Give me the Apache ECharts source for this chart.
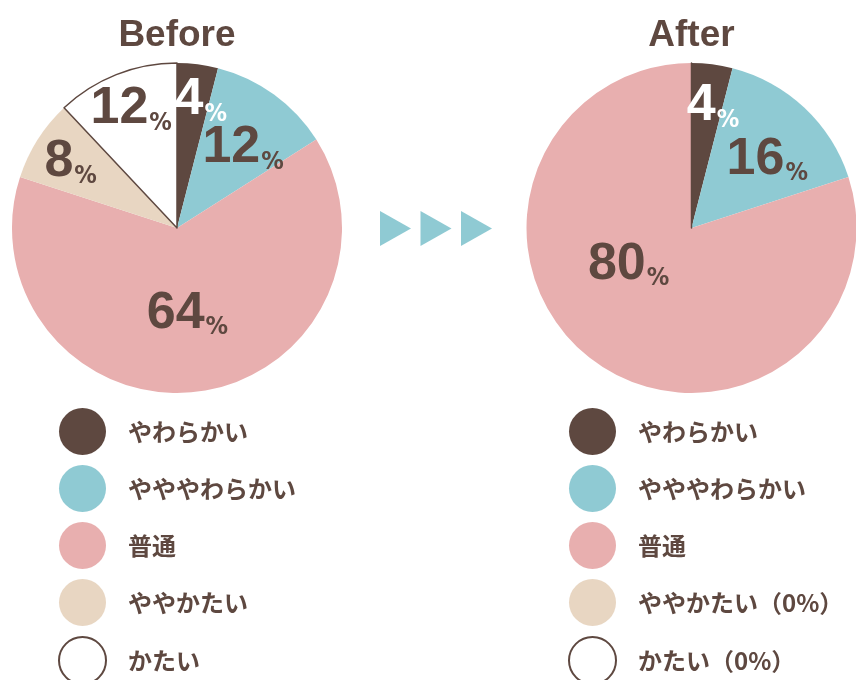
<!DOCTYPE html>
<html>
<head>
<meta charset="utf-8">
<script src="https://cdn.jsdelivr.net/npm/echarts@6/dist/echarts.min.js"></script>
<style>
  html, body { margin: 0; padding: 0; background: #fff; }
  #chart { width: 856px; height: 680px; }
</style>
</head>
<body>
<div id="chart"></div>
<script>
// データ
const categories = ['やわらかい', 'やややわらかい', '普通', 'ややかたい', 'かたい'];
const afterNames = ['やわらかい', 'やややわらかい', '普通', 'ややかたい（0%）', 'かたい（0%）'];
const beforeValues = [4, 12, 64, 8, 12];
const afterValues = [4, 16, 80, 0, 0];
const titles = ['Before', 'After'];

// スタイル
const brown = '#5e4840';
const colors = ['#5e4840', '#8fcad3', '#e8afaf', '#e8d6c2', '#ffffff'];
const labelColors = ['#ffffff', brown, brown, brown, brown];
// ラベル位置 [角度(上から時計回り), 半径比]
const beforeLabelPos = [[10.5, 0.79], [39.5, 0.63], [173, 0.52], [302, 0.76], [339, 0.775]];
const afterLabelPos = [[10, 0.75], [47.8, 0.62], [240, 0.44], [0, 0], [0, 0]];
const R = 165;
const beforeCenter = [177, 228];
const afterCenter = [691.5, 228];

const numFont = "'Liberation Sans', Arial, sans-serif";
const pctFont = "'DejaVu Sans Condensed', sans-serif";
const jpFont = "'Noto Sans CJK JP', sans-serif";

function buildData(names, values) {
  return names.map((name, i) => ({
    name: name,
    value: values[i],
    itemStyle: i === 4
      ? { color: colors[i], borderColor: brown, borderWidth: 1.5 }
      : { color: colors[i], borderWidth: 0 },
    label: { show: values[i] > 0, color: labelColors[i] }
  }));
}

function layoutFor(center, pos) {
  return function (params) {
    const p = pos[params.dataIndex];
    const a = p[0] * Math.PI / 180;
    return {
      x: center[0] + R * p[1] * Math.sin(a),
      y: center[1] - R * p[1] * Math.cos(a),
      align: 'center',
      verticalAlign: 'middle'
    };
  };
}

const pieLabel = {
  position: 'inside',
  formatter: '{n|{c}}{p|%}',
  rich: {
    n: { fontFamily: numFont, fontSize: 52, fontWeight: 'bold', lineHeight: 54 },
    p: { fontFamily: pctFont, fontSize: 25, fontWeight: 'bold', lineHeight: 50, verticalAlign: 'bottom', padding: [0, 0, 0, 1] }
  }
};

function legendFor(names, left) {
  return {
    data: names,
    orient: 'vertical',
    left: left,
    top: 408,
    height: 300,
    padding: 0,
    icon: 'circle',
    itemWidth: 47,
    itemHeight: 47,
    itemGap: 10,
    selectedMode: false,
    textStyle: {
      fontFamily: jpFont,
      fontSize: 24,
      fontWeight: 'bold',
      color: brown,
      padding: [0, 0, 0, 17]
    }
  };
}

const chart = echarts.init(document.getElementById('chart'));

const titleStyle = { fontFamily: numFont, fontSize: 37, fontWeight: 'bold', color: brown };

const option = {
  animation: false,
  backgroundColor: '#ffffff',
  title: [
    { text: titles[0], left: beforeCenter[0], top: 17, textAlign: 'center', padding: 0, textStyle: titleStyle },
    { text: titles[1], left: afterCenter[0], top: 17, textAlign: 'center', padding: 0, textStyle: titleStyle }
  ],
  legend: [
    legendFor(categories, 58),
    legendFor(afterNames, 568)
  ],
  series: [
    {
      name: titles[0],
      type: 'pie',
      center: beforeCenter,
      radius: [0, R],
      startAngle: 90,
      clockwise: true,
      avoidLabelOverlap: false,
      emphasis: { disabled: true },
      label: pieLabel,
      labelLine: { show: false },
      labelLayout: layoutFor(beforeCenter, beforeLabelPos),
      data: buildData(categories, beforeValues)
    },
    {
      name: titles[1],
      type: 'pie',
      center: afterCenter,
      radius: [0, R],
      startAngle: 90,
      clockwise: true,
      avoidLabelOverlap: false,
      emphasis: { disabled: true },
      label: pieLabel,
      labelLine: { show: false },
      labelLayout: layoutFor(afterCenter, afterLabelPos),
      data: buildData(afterNames, afterValues)
    }
  ],
  graphic: [0, 1, 2].map(i => ({
    type: 'polygon',
    silent: true,
    shape: { points: [[380 + i * 40.5, 211], [411 + i * 40.5, 228.5], [380 + i * 40.5, 246]] },
    style: { fill: '#8fcad3' }
  }))
};

chart.setOption(option);
</script>
</body>
</html>
